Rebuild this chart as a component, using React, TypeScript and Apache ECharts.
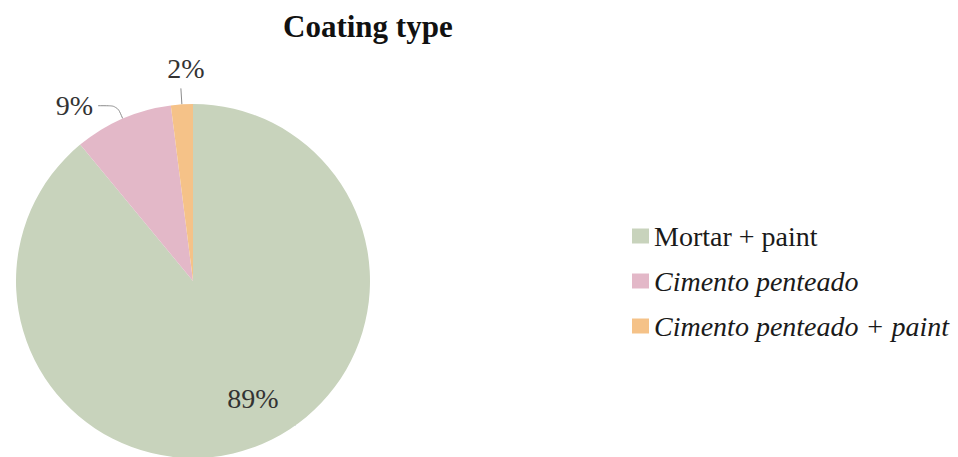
import React, { useEffect, useRef } from 'react';
import * as echarts from 'echarts';

// Coating type shares (percent of facades)
const categories = ['Mortar + paint', 'Cimento penteado', 'Cimento penteado + paint'];
const shares = [89, 9, 2];
const sliceColors = ['#c8d3bc', '#e3b8c8', '#f5c288'];
// Portuguese terms are set in italics in the legend
const italicNames = ['Cimento penteado', 'Cimento penteado + paint'];

const SERIF = "'Liberation Serif', 'Times New Roman', serif";

export default function App() {
  const ref = useRef<HTMLDivElement>(null);

  useEffect(() => {
    if (!ref.current) return;
    const chart = echarts.init(ref.current, null, { renderer: 'svg' });

    const perItem: any[] = [
      { label: { position: 'inside' } },
      {},
      {
        label: { distanceToLabelLine: -5, padding: [0, 0, 6, 0] },
        labelLine: { length: 16, length2: 0, smooth: false },
      },
    ];

    chart.setOption({
      animation: false,
      backgroundColor: '#ffffff',
      title: {
        text: 'Coating type',
        left: 283,
        top: 11,
        padding: 0,
        textStyle: { fontFamily: SERIF, fontSize: 31, fontWeight: 'bold', color: '#111111' },
      },
      legend: {
        orient: 'vertical',
        left: 632,
        top: 222,
        padding: 0,
        icon: 'rect',
        itemWidth: 17,
        itemHeight: 15,
        itemGap: 17,
        selectedMode: false,
        data: categories,
        formatter: (name: string) => (italicNames.includes(name) ? `{it|${name}}` : name),
        textStyle: {
          fontFamily: SERIF,
          fontSize: 28,
          lineHeight: 28,
          color: '#1a1a1a',
          rich: {
            it: { fontFamily: SERIF, fontSize: 28, lineHeight: 28, fontStyle: 'italic', color: '#1a1a1a' },
          },
        },
      },
      series: [
        {
          type: 'pie',
          center: [193, 281],
          radius: 177,
          startAngle: 90,
          clockwise: true,
          avoidLabelOverlap: false,
          emphasis: { disabled: true },
          label: {
            position: 'outside',
            formatter: '{c}%',
            fontFamily: SERIF,
            fontSize: 28,
            color: '#333333',
            distanceToLabelLine: 5,
          },
          labelLine: {
            show: true,
            length: 14,
            length2: 19,
            smooth: 0.3,
            lineStyle: { color: '#8c8c8c', width: 1 },
          },
          labelLayout: (p: any) => {
            if (p.dataIndex === 0) {
              return {
                x: p.labelRect.x + p.labelRect.width / 2 + 29,
                y: p.labelRect.y + p.labelRect.height / 2 + 31,
              };
            }
            if (p.dataIndex === 2) {
              return { align: 'center', verticalAlign: 'bottom' };
            }
            return {};
          },
          data: categories.map((name, i) => ({
            name,
            value: shares[i],
            itemStyle: { color: sliceColors[i] },
            ...perItem[i],
          })),
        },
      ],
    });

    return () => chart.dispose();
  }, []);

  return (
    <div
      ref={ref}
      style={{ position: 'fixed', left: 0, top: 0, width: 958, height: 457 }}
    />
  );
}
